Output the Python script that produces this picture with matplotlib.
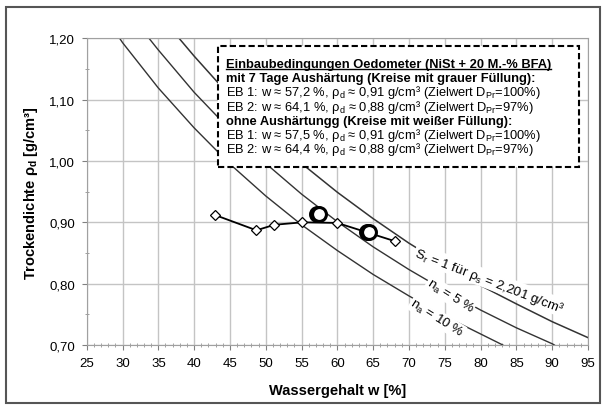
import matplotlib as mpl
import matplotlib.pyplot as plt

from matplotlib.lines import Line2D
from matplotlib.patches import Rectangle
from matplotlib.ticker import FuncFormatter, MultipleLocator

mpl.rcParams["font.family"] = ["Liberation Sans", "DejaVu Sans"]
mpl.rcParams["mathtext.default"] = "regular"
mpl.rcParams["font.size"] = 9

# Versuchspunkte (Proctor-Kurve, Rauten)
w_meas = [42.9, 48.7, 51.2, 55.1, 60.0, 68.1]
rho_meas = [0.912, 0.887, 0.896, 0.900, 0.899, 0.869]

# Einbaupunkte Oedometer
w_eb_cured = [57.2, 64.1]
rho_eb_cured = [0.914, 0.884]
w_eb_uncured = [57.5, 64.4]
rho_eb_uncured = [0.914, 0.884]

# Saettigungslinie Sr = 1 und Luftporenlinien
w_sr = [37.9, 40, 45, 50, 55, 60, 65, 70, 75, 80, 85, 90, 95]
rho_sr = [1.200, 1.171, 1.106, 1.048, 0.996, 0.949, 0.906, 0.866, 0.830, 0.797, 0.767, 0.738, 0.712]
w_n5 = [33.7, 35, 40, 45, 50, 55, 60, 65, 70, 75, 80, 85, 90, 90.3]
rho_n5 = [1.200, 1.181, 1.112, 1.051, 0.996, 0.946, 0.901, 0.860, 0.823, 0.789, 0.757, 0.728, 0.702, 0.700]
w_n10 = [29.6, 30, 35, 40, 45, 50, 55, 60, 65, 70, 75, 80, 83.1]
rho_n10 = [1.200, 1.193, 1.119, 1.054, 0.995, 0.943, 0.896, 0.854, 0.815, 0.780, 0.747, 0.718, 0.700]

box_lines = [
    "Einbaubedingungen Oedometer (NiSt + 20 M.-% BFA)",
    "mit 7 Tage Aushärtung (Kreise mit grauer Füllung):",
    "EB 1: w ≈ 57,2 %, ρ$_d$ ≈ 0,91 g/cm³ (Zielwert D$_{Pr}$=100%)",
    "EB 2: w ≈ 64,1 %, ρ$_d$ ≈ 0,88 g/cm³ (Zielwert D$_{Pr}$=97%)",
    "ohne Aushärtungg (Kreise mit weißer Füllung):",
    "EB 1: w ≈ 57,5 %, ρ$_d$ ≈ 0,91 g/cm³ (Zielwert D$_{Pr}$=100%)",
    "EB 2: w ≈ 64,4 %, ρ$_d$ ≈ 0,88 g/cm³ (Zielwert D$_{Pr}$=97%)",
]
box_bold = [True, True, False, False, True, False, False]


def comma_2(x, pos):
    return f"{x:.2f}".replace(".", ",")


def comma_0(x, pos):
    return f"{x:.0f}"


fig = plt.figure(figsize=(6.06, 4.10), dpi=100)
ax = fig.add_axes([0.1431, 0.1561, 0.8272, 0.7480])

ax.set_xlim(25, 95)
ax.set_ylim(0.70, 1.20)
ax.xaxis.set_major_locator(MultipleLocator(5))
ax.xaxis.set_minor_locator(MultipleLocator(1))
ax.yaxis.set_major_locator(MultipleLocator(0.1))
ax.yaxis.set_minor_locator(MultipleLocator(0.05))
ax.xaxis.set_major_formatter(FuncFormatter(comma_0))
ax.yaxis.set_major_formatter(FuncFormatter(comma_2))

ax.grid(True, which="major", color="#c4c4c4", linewidth=1)
ax.set_axisbelow(True)
for sp in ax.spines.values():
    sp.set_color("#a0a0a0")
ax.tick_params(which="major", direction="out", length=3.5, color="#808080", pad=5,
               labelsize=9.5)
ax.tick_params(which="minor", direction="inout", length=3, color="#909090")

# curves
ax.plot(w_sr, rho_sr, color="#333333", lw=1.1, zorder=2)
ax.plot(w_n5, rho_n5, color="#333333", lw=1.0, zorder=2)
ax.plot(w_n10, rho_n10, color="#333333", lw=1.0, zorder=2)

# measured points
ax.plot(w_meas, rho_meas, color="black", lw=1.3, marker="D", markersize=5,
        markerfacecolor="white", markeredgecolor="black", markeredgewidth=0.9, zorder=4)
ax.plot(w_eb_cured, rho_eb_cured, ls="none", marker="o", markersize=10,
        markerfacecolor="#a0a0a0", markeredgecolor="black", markeredgewidth=2.2, zorder=5)
ax.plot(w_eb_uncured, rho_eb_uncured, ls="none", marker="o", markersize=10,
        markerfacecolor="white", markeredgecolor="black", markeredgewidth=2.2, zorder=6)

# labels on the curves
lbl_box = dict(facecolor="white", edgecolor="none", pad=0.5)
ax.text(81.2, 0.806, "S$_r$ = 1 für ρ$_s$ = 2,201 g/cm³", rotation=-21, fontsize=9.6,
        rotation_mode="anchor", ha="center", va="center", bbox=lbl_box, zorder=3)
ax.text(75.75, 0.780, "n$_a$ = 5 %", rotation=-32, fontsize=9.6,
        rotation_mode="anchor", ha="center", va="center", bbox=lbl_box, zorder=3)
ax.text(73.9, 0.744, "n$_a$ = 10 %", rotation=-32, fontsize=9.6,
        rotation_mode="anchor", ha="center", va="center", bbox=lbl_box, zorder=3)

# dashed info box
ax.add_patch(Rectangle((0.262, 0.580), 0.720, 0.395, transform=ax.transAxes,
                       facecolor="white", edgecolor="black", lw=1.5,
                       linestyle=(0, (3, 1.5)), zorder=7))
texts = []
for i, (line, bold) in enumerate(zip(box_lines, box_bold)):
    y_px = 68 + 14.2 * i
    y_ax = (346 - y_px) / 306.7
    t = ax.text(0.278, y_ax, line, transform=ax.transAxes, ha="left", va="baseline",
                fontsize=9.3, fontweight="bold" if bold else "normal", zorder=8)
    texts.append((t, y_ax))

ax.set_xlabel("Wassergehalt w [%]", fontsize=10.5, fontweight="bold")
ax.set_ylabel("Trockendichte ρ$_d$ [g/cm³]", fontsize=10.5, fontweight="bold")
ax.xaxis.set_label_coords(0.5, -0.124)
ax.yaxis.set_label_coords(-0.093, 0.5)

# outer frame
fig.add_artist(Rectangle((6 / 606, 1 - 404 / 410), 594 / 606, 396 / 410,
                         transform=fig.transFigure, fill=False,
                         edgecolor="#555555", lw=1.5))

# underline for the box title
fig.canvas.draw()
renderer = fig.canvas.get_renderer()
t0, y0 = texts[0]
bb = t0.get_window_extent(renderer)
yb = ax.transAxes.transform((0, y0))[1] - 2
inv = fig.transFigure.inverted()
(xa, ya), (xb, _) = inv.transform([(bb.x0, yb), (bb.x1, yb)])
fig.add_artist(Line2D([xa, xb], [ya, ya], transform=fig.transFigure,
                      color="black", lw=1.0, zorder=9))

fig.savefig("out.png", dpi=100)
